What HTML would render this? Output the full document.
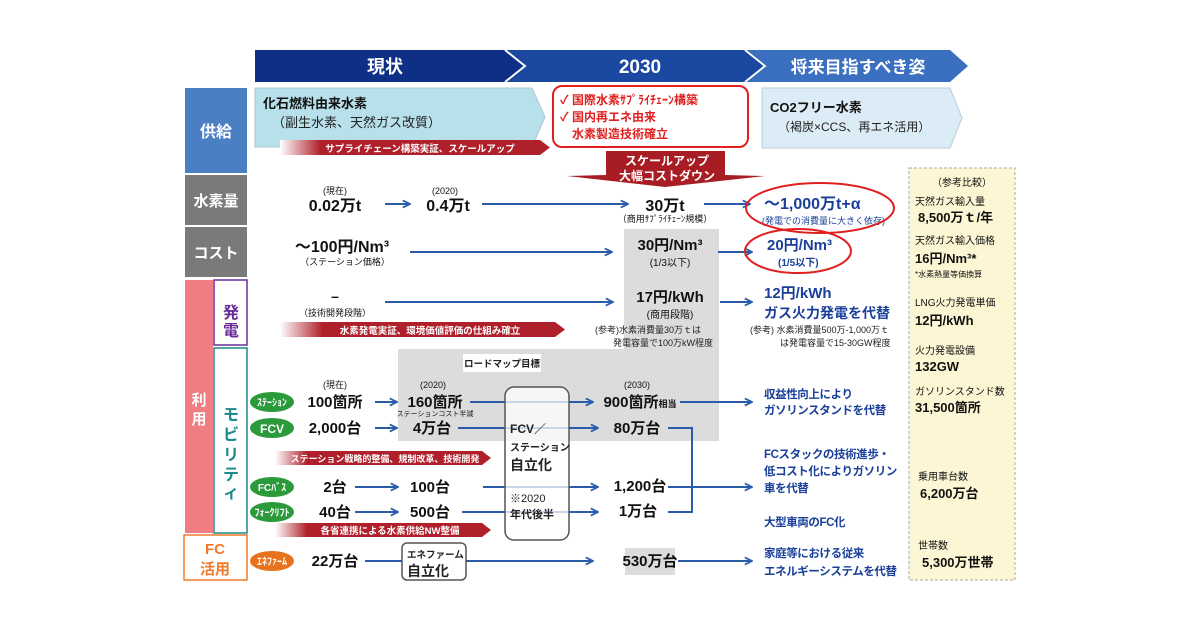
<!DOCTYPE html>
<html><head><meta charset="utf-8"><style>
html,body{margin:0;padding:0;background:#fff;}
svg{display:block;font-family:"Liberation Sans","Noto Sans CJK JP",sans-serif;}
.b{font-weight:bold;}
</style></head><body>
<svg width="1200" height="630" viewBox="0 0 1200 630" xmlns="http://www.w3.org/2000/svg">
<defs>
<marker id="ar" viewBox="0 0 10 10" refX="9" refY="5" markerWidth="9" markerHeight="9" orient="auto" markerUnits="userSpaceOnUse"><path d="M1,1 L9,5 L1,9" fill="none" stroke="#2a5caa" stroke-width="2"/></marker>
<linearGradient id="rg" x1="0" x2="1"><stop offset="0" stop-color="#fff"/><stop offset="0.15" stop-color="#b0202a"/><stop offset="1" stop-color="#b0202a"/></linearGradient>
</defs>
<!-- header -->
<polygon points="255,50 515,50 535,66 515,82 255,82" fill="#0d2f86"/>
<polygon points="507,50 755,50 775,66 755,82 507,82 527,66" fill="#1b48a0"/>
<polygon points="747,50 950,50 968,66 950,82 747,82 767,66" fill="#3b6fc0"/>
<polyline points="505,50 525,66 505,82" fill="none" stroke="#fff" stroke-width="2"/>
<polyline points="745,50 765,66 745,82" fill="none" stroke="#fff" stroke-width="2"/>
<text x="385" y="73" class="b" font-size="18" fill="#fff" text-anchor="middle">現状</text>
<text x="640" y="73" class="b" font-size="19" fill="#fff" text-anchor="middle">2030</text>
<text x="858" y="73" class="b" font-size="17" fill="#fff" text-anchor="middle">将来目指すべき姿</text>
<!-- left column -->
<rect x="185" y="88" width="62" height="85" fill="#4b7fc4"/>
<text x="216" y="137" class="b" font-size="16" fill="#fff" text-anchor="middle">供給</text>
<rect x="185" y="175" width="62" height="50" fill="#7a7a7a"/>
<text x="216" y="206" class="b" font-size="15" fill="#fff" text-anchor="middle">水素量</text>
<rect x="185" y="227" width="62" height="50" fill="#7a7a7a"/>
<text x="216" y="258" class="b" font-size="15" fill="#fff" text-anchor="middle">コスト</text>
<rect x="185" y="280" width="28" height="253" fill="#f07c84"/>
<text x="199" y="405" class="b" font-size="15" fill="#fff" text-anchor="middle">利</text>
<text x="199" y="424" class="b" font-size="15" fill="#fff" text-anchor="middle">用</text>
<rect x="214" y="280" width="33" height="65" fill="#fff" stroke="#6a2d9a" stroke-width="1.5"/>
<text x="231" y="318" class="b" font-size="16" fill="#6a2d9a" text-anchor="middle">発</text>
<text x="231" y="336" class="b" font-size="16" fill="#6a2d9a" text-anchor="middle">電</text>
<rect x="214" y="348" width="33" height="185" fill="#fff" stroke="#1a8a8a" stroke-width="1.5"/>
<text x="231" y="420" class="b" font-size="16" fill="#1a8a8a" text-anchor="middle">モ</text>
<text x="231" y="440" class="b" font-size="16" fill="#1a8a8a" text-anchor="middle">ビ</text>
<text x="231" y="460" class="b" font-size="16" fill="#1a8a8a" text-anchor="middle">リ</text>
<text x="231" y="480" class="b" font-size="16" fill="#1a8a8a" text-anchor="middle">テ</text>
<text x="231" y="498" class="b" font-size="16" fill="#1a8a8a" text-anchor="middle">ィ</text>
<rect x="184" y="535" width="63" height="45" fill="#fff" stroke="#f07a2a" stroke-width="1.5"/>
<text x="215" y="554" class="b" font-size="15" fill="#f07a2a" text-anchor="middle">FC</text>
<text x="215" y="574" class="b" font-size="15" fill="#f07a2a" text-anchor="middle">活用</text>
<!-- supply -->
<polygon points="255,88 532,88 545,117 532,147 255,147" fill="#b8e0ea" stroke="#a8c8d4"/>
<text x="263" y="108" class="b" font-size="13" fill="#111">化石燃料由来水素</text>
<text x="272" y="127" font-size="13" fill="#222">（副生水素、天然ガス改質）</text>
<polygon points="280,140 540,140 550,147.5 540,155 280,155" fill="url(#rg)"/>
<text x="420" y="152" class="b" font-size="9.5" fill="#fff" text-anchor="middle">サプライチェーン構築実証、スケールアップ</text>
<rect x="553" y="86" width="195" height="61" rx="9" fill="#fff" stroke="#e02020" stroke-width="2"/>
<text x="560" y="104" class="b" font-size="12" fill="#e02020">✓ 国際水素ｻﾌﾟﾗｲﾁｪｰﾝ構築</text>
<text x="560" y="121" class="b" font-size="12" fill="#e02020">✓ 国内再エネ由来</text>
<text x="572" y="138" class="b" font-size="12" fill="#e02020">水素製造技術確立</text>
<polygon points="762,88 950,88 962,118 950,148 762,148" fill="#dcecf6" stroke="#b8ccd8"/>
<text x="770" y="112" class="b" font-size="13" fill="#111">CO2フリー水素</text>
<text x="778" y="131" font-size="12" fill="#222">（褐炭×CCS、再エネ活用）</text>
<polygon points="606,151 725,151 725,175 765,176 665,187 567,176 606,175" fill="#a81c24"/>
<text x="667" y="165" class="b" font-size="12" fill="#fff" text-anchor="middle">スケールアップ</text>
<text x="667" y="180" class="b" font-size="12" fill="#fff" text-anchor="middle">大幅コストダウン</text>
<!-- gray boxes -->
<rect x="624" y="229" width="95" height="212" fill="#dcdcdc"/>
<rect x="398" y="349" width="321" height="92" fill="#dcdcdc"/>
<rect x="463" y="354" width="78" height="18" fill="#fff"/>
<text x="502" y="367" class="b" font-size="9.5" fill="#222" text-anchor="middle">ロードマップ目標</text>
<rect x="625" y="548" width="50" height="27" fill="#dcdcdc"/>
<!-- lines/arrows -->
<g stroke="#2a5caa" stroke-width="2" fill="none" marker-end="url(#ar)">
<line x1="385" y1="204" x2="410" y2="204"/>
<line x1="482" y1="204" x2="628" y2="204"/>
<line x1="704" y1="204" x2="750" y2="204"/>
<line x1="410" y1="252" x2="612" y2="252"/>
<line x1="718" y1="252" x2="752" y2="252"/>
<line x1="385" y1="302" x2="613" y2="302"/>
<line x1="720" y1="302" x2="752" y2="302"/>
<line x1="375" y1="402" x2="397" y2="402"/>
<line x1="375" y1="428" x2="397" y2="428"/>
<line x1="470" y1="402" x2="593" y2="402"/>
<line x1="458" y1="428" x2="598" y2="428"/>
<line x1="355" y1="487" x2="398" y2="487"/>
<line x1="355" y1="512" x2="398" y2="512"/>
<line x1="483" y1="487" x2="598" y2="487"/>
<line x1="462" y1="512" x2="598" y2="512"/>
<line x1="680" y1="402" x2="752" y2="402"/>
<line x1="692" y1="487" x2="752" y2="487"/>
<line x1="365" y1="561" x2="593" y2="561"/>
<line x1="678" y1="561" x2="752" y2="561"/>
</g>
<g stroke="#2a5caa" stroke-width="2" fill="none">
<polyline points="668,428 692,428 692,512 668,512"/>
<line x1="668" y1="487" x2="692" y2="487"/>
</g>
<!-- FCV box -->
<rect x="505" y="387" width="64" height="153" rx="9" fill="rgba(255,255,255,0.75)" stroke="#555" stroke-width="1.5"/>
<text x="510" y="433" class="b" font-size="12" fill="#222">FCV／</text>
<text x="510" y="451" class="b" font-size="10" fill="#222">ステーション</text>
<text x="510" y="470" class="b" font-size="14" fill="#222">自立化</text>
<text x="510" y="502" font-size="11" fill="#222">※2020</text>
<text x="510" y="518" class="b" font-size="11" fill="#222">年代後半</text>
<rect x="402" y="543" width="64" height="37" rx="5" fill="#fff" stroke="#555" stroke-width="1.5"/>
<text x="407" y="558" class="b" font-size="9.5" fill="#222">エネファーム</text>
<text x="407" y="576" class="b" font-size="14" fill="#222">自立化</text>
<!-- row values -->
<g class="b" fill="#111" text-anchor="middle">
<text x="335" y="194" font-size="9" font-weight="normal">(現在)</text>
<text x="335" y="211" font-size="16">0.02万t</text>
<text x="445" y="194" font-size="9" font-weight="normal">(2020)</text>
<text x="448" y="211" font-size="16">0.4万t</text>
<text x="665" y="211" font-size="16">30万t</text>
<text x="665" y="222" font-size="9" font-weight="normal">（商用ｻﾌﾟﾗｲﾁｪｰﾝ規模）</text>
<text x="342" y="252" font-size="16">～100円/Nm³</text>
<text x="345" y="265" font-size="9" font-weight="normal">（ステーション価格）</text>
<text x="670" y="250" font-size="15">30円/Nm³</text>
<text x="670" y="266" font-size="10" font-weight="normal">(1/3以下)</text>
<text x="335" y="301" font-size="14">–</text>
<text x="335" y="316" font-size="9" font-weight="normal">（技術開発段階）</text>
<text x="670" y="302" font-size="15">17円/kWh</text>
<text x="670" y="318" font-size="10" font-weight="normal">(商用段階)</text>
<text x="335" y="388" font-size="9" font-weight="normal">(現在)</text>
<text x="335" y="407" font-size="15">100箇所</text>
<text x="335" y="433" font-size="15">2,000台</text>
<text x="433" y="388" font-size="9" font-weight="normal">(2020)</text>
<text x="435" y="407" font-size="15">160箇所</text>
<text x="435" y="416" font-size="7" font-weight="normal">ステーションコスト半減</text>
<text x="432" y="433" font-size="15">4万台</text>
<text x="637" y="388" font-size="9" font-weight="normal">(2030)</text>
<text x="640" y="407" font-size="15">900箇所<tspan font-size="9">相当</tspan></text>
<text x="637" y="433" font-size="15">80万台</text>
<text x="335" y="492" font-size="15">2台</text>
<text x="335" y="517" font-size="15">40台</text>
<text x="430" y="492" font-size="15">100台</text>
<text x="430" y="517" font-size="15">500台</text>
<text x="640" y="491" font-size="15">1,200台</text>
<text x="638" y="516" font-size="15">1万台</text>
<text x="335" y="566" font-size="15">22万台</text>
<text x="650" y="566" font-size="15">530万台</text>
</g>
<text x="595" y="333" font-size="9" fill="#222">(参考)水素消費量30万ｔは</text>
<text x="613" y="346" font-size="9" fill="#222">発電容量で100万kW程度</text>
<text x="750" y="333" font-size="9" fill="#222">(参考) 水素消費量500万-1,000万ｔ</text>
<text x="780" y="346" font-size="9" fill="#222">は発電容量で15-30GW程度</text>
<!-- red banners -->
<polygon points="280,322 555,322 565,329.5 555,337 280,337" fill="url(#rg)"/>
<text x="430" y="334" class="b" font-size="9.5" fill="#fff" text-anchor="middle">水素発電実証、環境価値評価の仕組み確立</text>
<polygon points="275,451 482,451 491,458 482,465 275,465" fill="url(#rg)"/>
<text x="385" y="462" class="b" font-size="9" fill="#fff" text-anchor="middle">ステーション戦略的整備、規制改革、技術開発</text>
<polygon points="275,523 482,523 491,530 482,537 275,537" fill="url(#rg)"/>
<text x="390" y="534" class="b" font-size="9.5" fill="#fff" text-anchor="middle">各省連携による水素供給NW整備</text>
<!-- ovals -->
<g class="b" font-size="10" fill="#fff" text-anchor="middle">
<ellipse cx="272" cy="402" rx="22" ry="10" fill="#2a9a3a"/><text x="272" y="406">ｽﾃｰｼｮﾝ</text>
<ellipse cx="272" cy="428" rx="22" ry="10" fill="#2a9a3a"/><text x="272" y="433" font-size="12">FCV</text>
<ellipse cx="272" cy="487" rx="22" ry="10" fill="#2a9a3a"/><text x="272" y="491">FCﾊﾞｽ</text>
<ellipse cx="272" cy="512" rx="22" ry="10" fill="#2a9a3a"/><text x="272" y="516">ﾌｫｰｸﾘﾌﾄ</text>
<ellipse cx="272" cy="561" rx="22" ry="10" fill="#e8731e"/><text x="272" y="565">ｴﾈﾌｧｰﾑ</text>
</g>
<!-- future column -->
<text x="764" y="209" class="b" font-size="16" fill="#1a3f9a">～1,000万t+α</text>
<text x="762" y="224" font-size="9" fill="#1a3f9a">(発電での消費量に大きく依存)</text>
<ellipse cx="820" cy="208" rx="74" ry="25" fill="none" stroke="#e02020" stroke-width="2"/>
<text x="767" y="250" class="b" font-size="15" fill="#1a3f9a">20円/Nm³</text>
<text x="778" y="266" font-size="10" class="b" fill="#1a3f9a">(1/5以下)</text>
<ellipse cx="798" cy="251" rx="53" ry="22" fill="none" stroke="#e02020" stroke-width="2"/>
<text x="764" y="298" class="b" font-size="15" fill="#1a3f9a">12円/kWh</text>
<text x="764" y="318" class="b" font-size="14" fill="#1a3f9a">ガス火力発電を代替</text>
<g class="b" font-size="11.5" fill="#1a3f9a" letter-spacing="-0.4">
<text x="764" y="398">収益性向上により</text>
<text x="764" y="414">ガソリンスタンドを代替</text>
<text x="764" y="458">FCスタックの技術進歩・</text>
<text x="764" y="475">低コスト化によりガソリン</text>
<text x="764" y="492">車を代替</text>
<text x="764" y="526">大型車両のFC化</text>
<text x="764" y="557">家庭等における従来</text>
<text x="764" y="575">エネルギーシステムを代替</text>
</g>
<!-- reference box -->
<rect x="909" y="168" width="106" height="412" fill="#fdf6d4" stroke="#aaa" stroke-dasharray="3,2"/>
<g fill="#111">
<text x="962" y="186" font-size="10" text-anchor="middle">（参考比較）</text>
<text x="915" y="205" font-size="10">天然ガス輸入量</text>
<text x="918" y="222" class="b" font-size="13">8,500万ｔ/年</text>
<text x="915" y="244" font-size="10">天然ガス輸入価格</text>
<text x="915" y="263" class="b" font-size="13">16円/Nm³*</text>
<text x="915" y="277" font-size="8">*水素熱量等価換算</text>
<text x="915" y="306" font-size="10">LNG火力発電単価</text>
<text x="915" y="325" class="b" font-size="13">12円/kWh</text>
<text x="915" y="354" font-size="10">火力発電設備</text>
<text x="915" y="371" class="b" font-size="13">132GW</text>
<text x="915" y="395" font-size="10">ガソリンスタンド数</text>
<text x="915" y="412" class="b" font-size="13">31,500箇所</text>
<text x="918" y="480" font-size="10">乗用車台数</text>
<text x="920" y="498" class="b" font-size="13">6,200万台</text>
<text x="918" y="549" font-size="10">世帯数</text>
<text x="922" y="567" class="b" font-size="13">5,300万世帯</text>
</g>
</svg>
</body></html>
